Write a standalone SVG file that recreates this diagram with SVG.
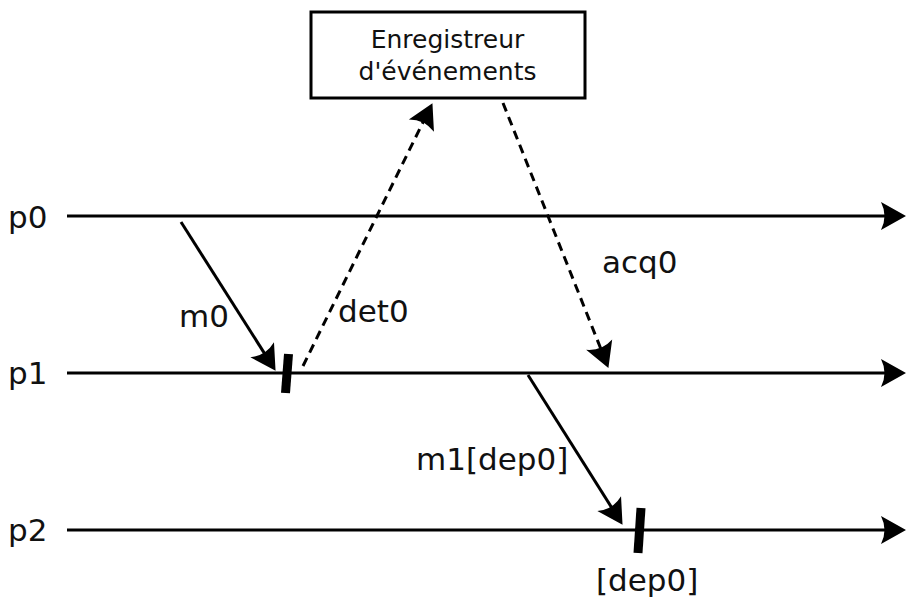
<svg xmlns="http://www.w3.org/2000/svg" width="906" height="600" viewBox="0 0 906 600">
  <defs>
    <style>
      .lbl { font-family: "DejaVu Sans", "Liberation Sans", sans-serif; font-size: 31px; fill: #111; }
      .box-text { font-family: "DejaVu Sans", "Liberation Sans", sans-serif; font-size: 25px; fill: #111; text-anchor: middle; }
      .line { stroke: #000; stroke-width: 3; fill: none; marker-end: url(#head); }
      .dashed { stroke-dasharray: 9 6; }
      .tick { stroke: #000; stroke-width: 9; }
    </style>
    <marker id="head" markerUnits="userSpaceOnUse" markerWidth="32" markerHeight="32" viewBox="-16 -16 32 32" refX="0" refY="0" orient="auto" overflow="visible">
      <path d="M 13 0 L -12 -14 Q -5 0 -12 14 Z" fill="#000" stroke="none"/>
    </marker>
  </defs>

  <rect width="906" height="600" fill="#fff"/>

  <!-- event recorder -->
  <g id="recorder">
    <rect x="311" y="12" width="274" height="86" fill="#fff" stroke="#000" stroke-width="3"/>
    <text class="box-text" x="447.5" y="48">Enregistreur</text>
    <text class="box-text" x="447.5" y="80">d'événements</text>
  </g>

  <!-- process timelines -->
  <g id="p0">
    <text class="lbl" x="8" y="228">p0</text>
  </g>
  <g id="p1">
    <text class="lbl" x="8" y="384">p1</text>
  </g>
  <g id="p2">
    <text class="lbl" x="8" y="541">p2</text>
  </g>

  <g id="connectors">
    <path class="line" d="M 67 216 L 893 216"/>
    <path class="line" d="M 67 373 L 893 373"/>
    <path class="line" d="M 67 530 L 893 530"/>

    <!-- m0 : p0 -> p1 -->
    <path class="line" d="M 181 222 L 268.6 359.9"/>
    <!-- det0 : p1 -> recorder -->
    <path class="line dashed" d="M 303 366 L 426.7 114.8"/>
    <!-- acq0 : recorder -> p1 -->
    <path class="line dashed" d="M 503 103 L 603.6 355.8"/>
    <!-- m1[dep0] : p1 -> p2 -->
    <path class="line" d="M 528 375 L 615.6 513.8"/>
  </g>

  <!-- delivery marks -->
  <g id="deliver-p1">
    <line class="tick" x1="288.5" y1="354" x2="285.5" y2="393"/>
  </g>
  <g id="deliver-p2">
    <line class="tick" x1="641" y1="508" x2="638" y2="553"/>
  </g>

  <!-- message labels -->
  <g id="labels">
    <text class="lbl" x="179" y="327">m0</text>
    <text class="lbl" x="338" y="322">det0</text>
    <text class="lbl" x="602" y="273">acq0</text>
    <text class="lbl" x="416" y="470">m1[dep0]</text>
    <text class="lbl" x="596" y="591">[dep0]</text>
  </g>
</svg>
